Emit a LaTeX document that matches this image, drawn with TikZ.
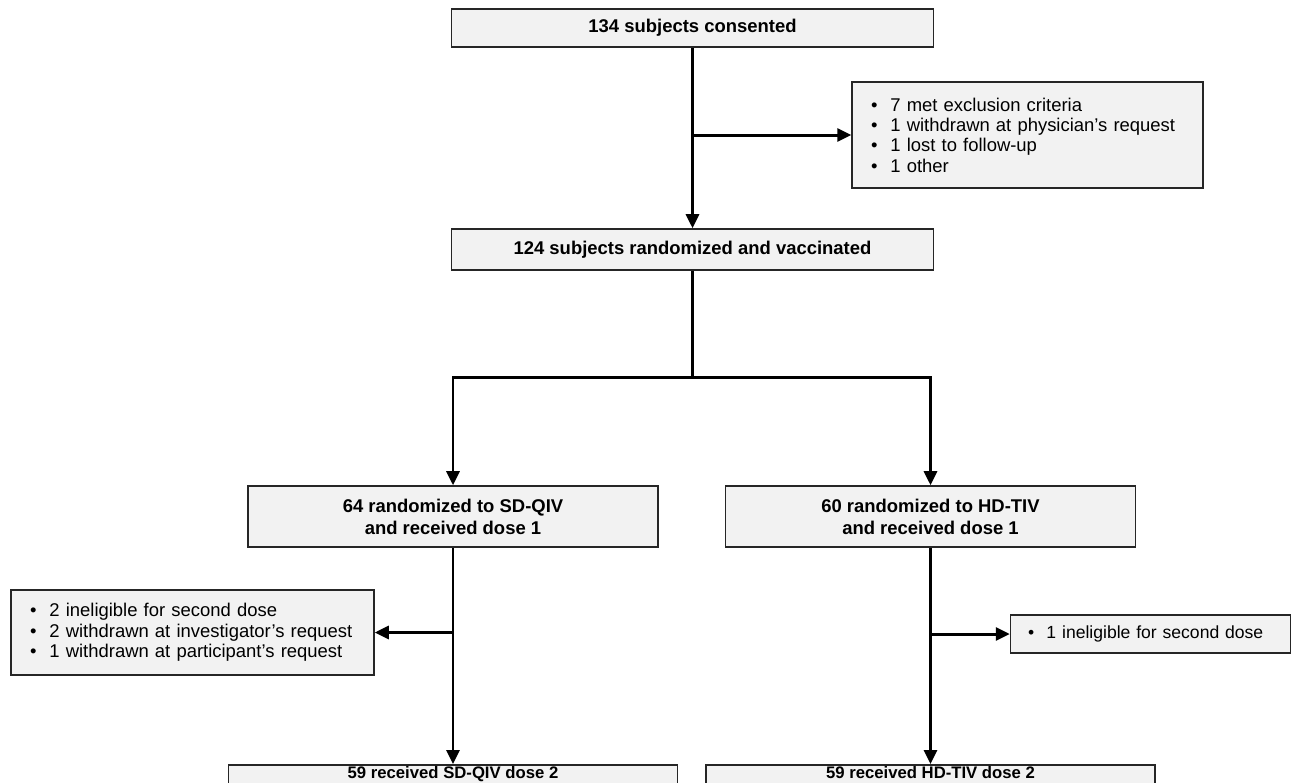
\documentclass[tikz,border=0pt]{standalone}
\usepackage{fontspec}
\setmainfont{Liberation Sans}
\usetikzlibrary{arrows.meta}

\newcommand{\itm}[1]{\makebox[1.05em][l]{\textbullet}#1}

\begin{document}
\begin{tikzpicture}[x=0.02cm,y=-0.02cm,
  box/.style={draw=black!85,line width=0.9pt,fill=black!5,inner sep=0pt,
    font=\fontsize{10.5}{12.4}\selectfont\bfseries,align=center},
  listbox/.style={draw=black!85,line width=0.9pt,fill=black!5,inner ysep=0pt,
    inner xsep=0.38cm,font=\fontsize{10.5}{11.6}\selectfont,align=left},
  lastbox/.style={box,anchor=north,minimum width=8.98cm,inner ysep=0.04cm,
    text height=0.24cm,text depth=0.12cm,font=\fontsize{9.5}{11}\selectfont\bfseries},
  trunk/.style={line width=1.7pt},
  flow/.style={line width=1.7pt,-{Triangle[length=0.28cm,width=0.26cm]}}]
\useasboundingbox (0,0) rectangle (1291,782);

% boxes
\node[box,minimum width=9.64cm,minimum height=0.76cm] (cons) at (692.5,28) {134 subjects consented};
\node[listbox,text width=6.26cm,minimum height=2.12cm] (excl) at (1027.5,135)
  {\itm{7 met exclusion criteria}\\ \itm{1 withdrawn at physician’s request}\\
   \itm{1 lost to follow-up}\\ \itm{1 other}};
\node[box,minimum width=9.64cm,minimum height=0.82cm] (rand) at (692.5,249.5) {124 subjects randomized and vaccinated};
\node[box,minimum width=8.2cm,minimum height=1.22cm] (sdqiv) at (453,516.5) {64 randomized to SD-QIV\\ and received dose 1};
\node[box,minimum width=8.2cm,minimum height=1.22cm] (hdtiv) at (930.5,516.5) {60 randomized to HD-TIV\\ and received dose 1};
\node[listbox,text width=6.5cm,minimum height=1.7cm] (sdexcl) at (192.5,632.5)
  {\itm{2 ineligible for second dose}\\ \itm{2 withdrawn at investigator’s request}\\
   \itm{1 withdrawn at participant’s request}};
\node[listbox,inner xsep=0.35cm,text width=4.9cm,minimum height=0.76cm,
  font=\fontsize{10}{11.6}\selectfont] (hdexcl) at (1150.5,634)
  {\itm{1 ineligible for second dose}};
\node[lastbox] (sddose2) at (453,764) {59 received SD-QIV dose 2};
\node[lastbox] (hddose2) at (930.5,764) {59 received HD-TIV dose 2};

% connectors
\coordinate (split) at (692.5,377);
\draw[flow] (cons.south) -- (rand.north);
\draw[flow] (cons.south |- excl.west) -- (excl.west);
\draw[trunk] (rand.south) -- (split);
\draw[flow] (split) -| (sdqiv.north);
\draw[flow] (split) -| (hdtiv.north);
\draw[flow] (sdqiv.south) -- (sddose2.north);
\draw[flow] (sdqiv.south |- sdexcl.east) -- (sdexcl.east);
\draw[flow] (hdtiv.south) -- (hddose2.north);
\draw[flow] (hdtiv.south |- hdexcl.west) -- (hdexcl.west);
\end{tikzpicture}
\end{document}
